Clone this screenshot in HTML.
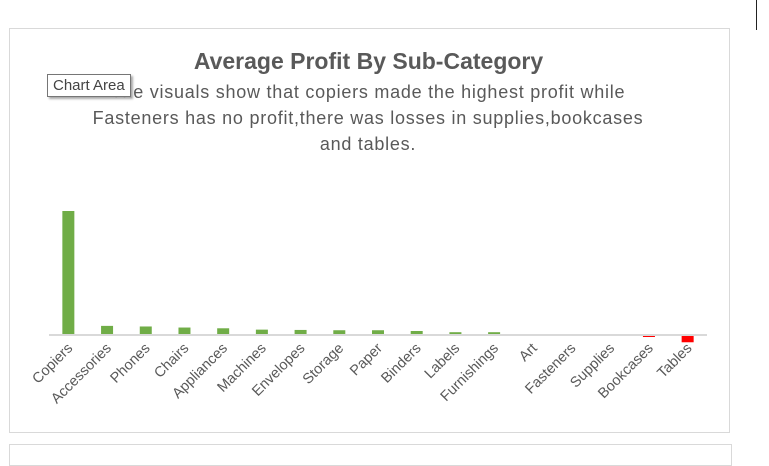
<!DOCTYPE html>
<html><head><meta charset="utf-8"><style>
body{margin:0;width:769px;height:456px;background:#fff;overflow:hidden;position:relative;font-family:"Liberation Sans",sans-serif}
.frame{position:absolute;left:9px;top:28px;width:719px;height:403px;border:1px solid #d9d9d9}
.frame2{position:absolute;left:9px;top:444px;width:721px;height:20px;border:1px solid #d9d9d9}
.title{position:absolute;left:0;width:737px;top:48px;text-align:center;font-weight:bold;font-size:23px;color:#595959}
.sub{position:absolute;left:38px;width:660px;top:79px;text-align:center;font-size:18px;letter-spacing:0.75px;line-height:26px;color:#595959;white-space:nowrap}
.tip{position:absolute;left:47px;top:74px;padding:2px 5px;border:1px solid #767676;background:#fff;font-size:15px;color:#444;box-shadow:2px 2px 2px #aaa}
</style></head><body>
<div class="frame"></div>
<div class="frame2"></div>
<div style="position:absolute;left:756px;top:0;width:1px;height:30px;background:#222"></div>
<div class="title">Average Profit By Sub-Category</div>
<div class="sub">The visuals show that copiers made the highest profit while<br>Fasteners has no profit,there was losses in supplies,bookcases<br>and tables.</div>
<div class="tip">Chart Area</div>
<svg id="c" width="769" height="456" style="position:absolute;left:0;top:0"></svg>
<script>
const categories=["Copiers","Accessories","Phones","Chairs","Appliances","Machines","Envelopes","Storage","Paper","Binders","Labels","Furnishings","Art","Fasteners","Supplies","Bookcases","Tables"];
const values=[818,54,50,43,38,29,27,25,25,20,12,12,0,0,-1,-20,-55];
const svg=document.getElementById('c');
const NS='http://www.w3.org/2000/svg';
const x0=49,x1=707,y0=334,scale=123/818;
const slot=(x1-x0)/categories.length;
const xPos=i=>x0+slot*(i+0.5);
const yPos=v=>y0-v*scale;
categories.forEach((c,i)=>{
  const v=values[i];
  const r=document.createElementNS(NS,'rect');
  
  
  r.setAttribute('x',xPos(i)-6);r.setAttribute('width',12);
  r.setAttribute('y',Math.min(yPos(v),y0));r.setAttribute('height',Math.abs(yPos(v)-y0));
  r.setAttribute('fill',v<0?'#ff0000':'#70ad47');
  svg.appendChild(r);
  const t=document.createElementNS(NS,'text');
  
  
  const tx=xPos(i)+5,ty=y0+15;
  t.setAttribute('x',tx);t.setAttribute('y',ty);
  t.setAttribute('text-anchor','end');
  t.setAttribute('transform','rotate(-45 '+tx+' '+ty+')');
  t.setAttribute('font-size','14.5');t.setAttribute('fill','#595959');
  t.setAttribute('font-family','Liberation Sans, sans-serif');
  t.textContent=c;svg.appendChild(t);
});
const ax=document.createElementNS(NS,'line');


ax.setAttribute('x1',x0);ax.setAttribute('x2',x1);ax.setAttribute('y1',y0+1);ax.setAttribute('y2',y0+1);
ax.setAttribute('stroke','#d9d9d9');ax.setAttribute('stroke-width','2');
svg.appendChild(ax);
</script>
</body></html>
